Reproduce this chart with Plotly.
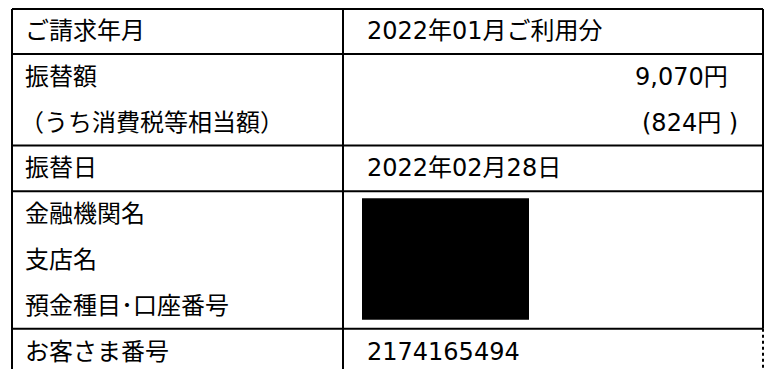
import plotly.graph_objects as go

# ---- data ----
item_labels = [
    "ご請求年月",
    "振替額",
    "（うち消費税等相当額）",
    "振替日",
    "金融機関名",
    "支店名",
    "預金種目･口座番号",
    "お客さま番号",
]
item_values = [
    "2022年01月ご利用分",
    "9,070円",
    "(824円 )",
    "2022年02月28日",
    "",
    "",
    "",
    "2174165494",
]
right_aligned_rows = [1, 2]          # amount rows are right-aligned
redacted_rows = [4, 5, 6]            # bank details are blacked out
group_breaks = [0, 2, 3, 6]          # a rule is drawn after these rows

# ---- layout constants (pixels) ----
W, H = 769, 369
ROW_Y0, ROW_STEP = 31, 45.8
X_LEFT, X_DIV, X_RIGHT = 12, 343, 763
Y_TOP = 9
LABEL_X, VALUE_X = 23, 365
AMOUNT_RX = {1: 730, 2: 740}
FONT = dict(family="DejaVu Sans, Noto Sans CJK JP", size=24, color="#000")

def row_y(i):
    return ROW_Y0 + ROW_STEP * i

fig = go.Figure()
# invisible anchor trace so axes exist
fig.add_trace(go.Scatter(x=[0, W], y=[0, H], mode="markers",
                         marker=dict(opacity=0), hoverinfo="skip", showlegend=False))

annotations = []
for i, (lab, val) in enumerate(zip(item_labels, item_values)):
    lx = LABEL_X - 5 if lab.startswith("（") else LABEL_X
    annotations.append(dict(x=lx, y=row_y(i), text=lab, xanchor="left",
                            yanchor="middle", showarrow=False, font=FONT))
    if val:
        if i in right_aligned_rows:
            annotations.append(dict(x=AMOUNT_RX[i], y=row_y(i), text=val,
                                    xanchor="right", yanchor="middle",
                                    showarrow=False, font=FONT))
        else:
            annotations.append(dict(x=VALUE_X, y=row_y(i), text=val, xanchor="left",
                                    yanchor="middle", showarrow=False, font=FONT))

shapes = []
line = dict(color="#000", width=2)
# top rule
shapes.append(dict(type="line", x0=X_LEFT, x1=X_RIGHT, y0=Y_TOP, y1=Y_TOP, line=line))
# group rules
rule_ys = []
for b in group_breaks:
    y = (row_y(b) + row_y(b + 1)) / 2
    rule_ys.append(y)
    shapes.append(dict(type="line", x0=X_LEFT, x1=X_RIGHT, y0=y, y1=y, line=line))
# vertical rules
shapes.append(dict(type="line", x0=X_LEFT, x1=X_LEFT, y0=Y_TOP, y1=H, line=line))
shapes.append(dict(type="line", x0=X_DIV, x1=X_DIV, y0=Y_TOP, y1=H, line=line))
shapes.append(dict(type="line", x0=X_RIGHT, x1=X_RIGHT, y0=Y_TOP, y1=rule_ys[-1], line=line))
shapes.append(dict(type="line", x0=X_RIGHT, x1=X_RIGHT, y0=rule_ys[-1], y1=H,
                   line=dict(color="#000", width=2, dash="dot")))
# redaction box over bank details
shapes.append(dict(type="rect", x0=362, x1=529,
                   y0=row_y(redacted_rows[0]) - 16, y1=row_y(redacted_rows[-1]) + 14,
                   fillcolor="#000", line=dict(width=0)))

fig.update_layout(
    width=W, height=H,
    margin=dict(l=0, r=0, t=0, b=0),
    paper_bgcolor="white", plot_bgcolor="white",
    xaxis=dict(range=[0, W], visible=False, fixedrange=True),
    yaxis=dict(range=[H, 0], visible=False, fixedrange=True),
    annotations=annotations,
    shapes=shapes,
    showlegend=False,
)

fig.write_html("out.html", config={"displayModeBar": False},
               post_script="document.body.style.margin='0';document.body.style.overflow='hidden';")
